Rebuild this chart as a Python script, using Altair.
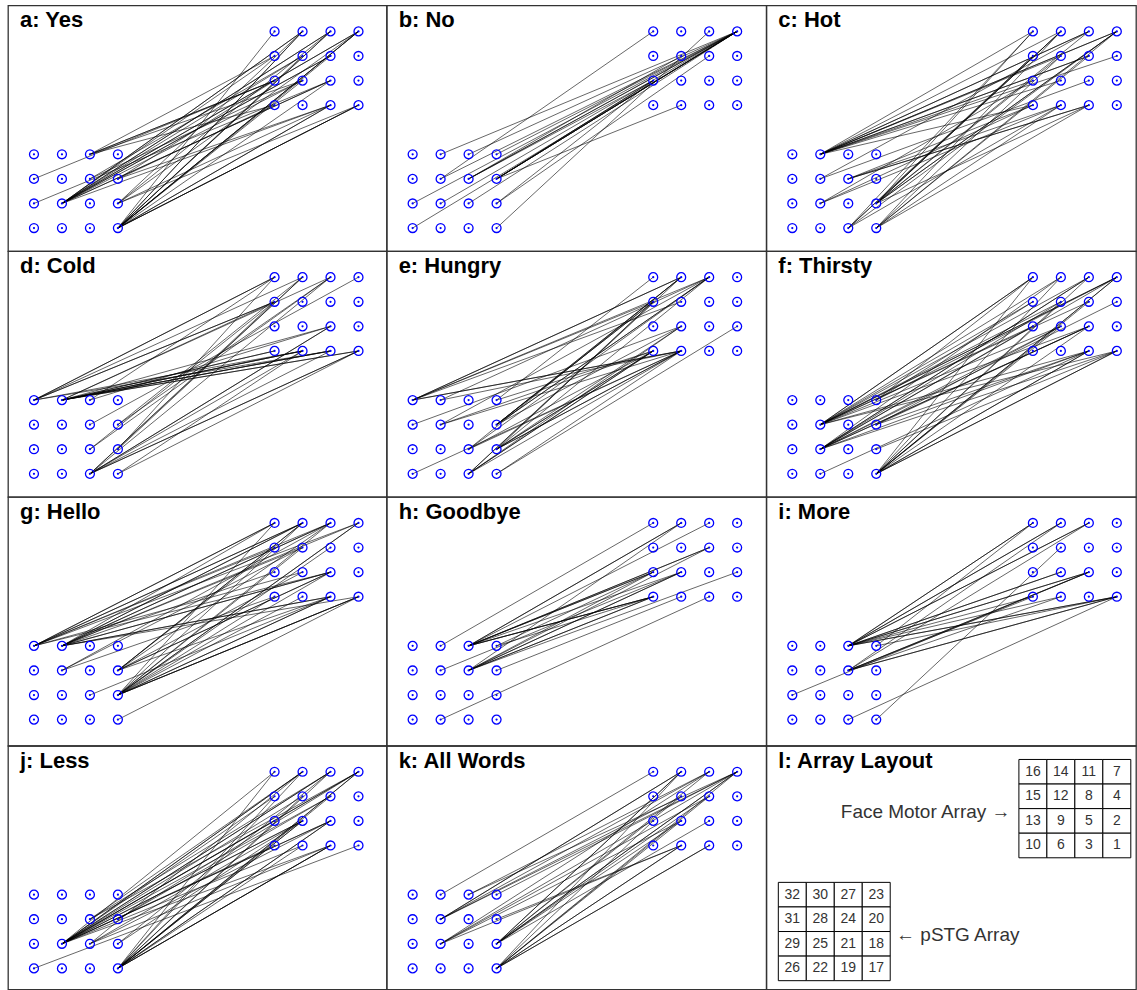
import altair as alt
import pandas as pd

# ---------------- data ----------------
TITLES = ["a: Yes", "b: No", "c: Hot", "d: Cold", "e: Hungry", "f: Thirsty",
          "g: Hello", "h: Goodbye", "i: More", "j: Less", "k: All Words", "l: Array Layout"]

# electrode numbering, rows top -> bottom, columns left -> right
MOTOR_LAYOUT = [[16, 14, 11, 7], [15, 12, 8, 4], [13, 9, 5, 2], [10, 6, 3, 1]]
PSTG_LAYOUT = [[32, 30, 27, 23], [31, 28, 24, 20], [29, 25, 21, 18], [26, 22, 19, 17]]

# connections: (pSTG electrode, face-motor electrode, number of lines)
CONN_YES = [(25, 14, 2), (25, 11, 2), (25, 7, 2), (25, 12, 1), (25, 8, 2), (25, 9, 1), (25, 5, 2), (25, 3, 1), (25, 15, 1),
            (17, 16, 1), (17, 14, 2), (17, 11, 2), (17, 7, 3), (17, 12, 1), (17, 8, 1), (17, 5, 1), (17, 3, 2), (17, 1, 3), (17, 9, 1),
            (18, 14, 1), (18, 11, 1), (18, 7, 1), (18, 3, 1), (18, 1, 1),
            (27, 13, 2), (27, 10, 1), (27, 9, 1), (27, 15, 1),
            (24, 12, 1), (24, 9, 1), (20, 13, 1), (20, 10, 1), (20, 3, 1), (31, 13, 1), (29, 5, 1)]
CONN_NO = [(30, 7, 1), (27, 7, 1), (28, 7, 1), (24, 7, 2), (20, 7, 4), (29, 7, 1), (25, 7, 1), (26, 7, 1), (23, 7, 1), (21, 7, 1),
           (20, 13, 2), (24, 13, 1), (18, 13, 1), (20, 6, 1), (28, 16, 1), (18, 8, 1), (17, 11, 1), (24, 12, 1)]
CONN_HOT = [(30, 16, 1), (30, 14, 1), (30, 11, 2), (30, 7, 2), (30, 12, 1), (30, 8, 2), (30, 4, 1), (30, 13, 1), (30, 9, 1), (30, 10, 1),
            (28, 11, 1), (28, 5, 1), (24, 6, 1), (24, 3, 2), (24, 10, 1), (25, 10, 1), (25, 13, 1), (25, 6, 1),
            (18, 16, 1), (18, 14, 2), (18, 11, 1), (18, 7, 2), (18, 15, 1), (18, 12, 1), (18, 3, 1),
            (19, 16, 1), (19, 14, 1), (19, 15, 1), (19, 7, 1), (19, 6, 1),
            (17, 14, 1), (17, 7, 1), (17, 12, 1), (17, 8, 1), (17, 3, 1), (17, 6, 1)]
CONN_COLD = [(32, 16, 2), (32, 15, 2), (32, 14, 1), (32, 6, 1), (32, 3, 1),
             (30, 10, 2), (30, 6, 3), (30, 3, 3), (30, 1, 2), (30, 15, 1), (30, 11, 1), (30, 5, 1),
             (27, 16, 1), (27, 5, 1), (24, 7, 1), (20, 11, 1), (20, 14, 1), (21, 15, 1), (21, 11, 1), (18, 16, 1), (18, 14, 1),
             (19, 15, 1), (19, 14, 1), (19, 11, 1), (19, 5, 2), (19, 3, 1), (19, 1, 2), (19, 6, 1), (17, 1, 1), (17, 6, 1)]
CONN_HUNGRY = [(32, 14, 2), (32, 11, 1), (32, 15, 1), (32, 12, 1), (32, 6, 2), (30, 11, 1), (30, 6, 1), (31, 9, 1),
               (28, 11, 1), (28, 10, 1), (28, 6, 1), (23, 10, 1), (20, 14, 2), (20, 11, 2), (20, 15, 2), (20, 9, 1),
               (21, 14, 1), (21, 11, 1), (21, 10, 1), (21, 6, 1), (18, 11, 1), (18, 15, 1), (18, 10, 2), (18, 6, 2), (18, 9, 1),
               (26, 6, 1), (19, 14, 1), (19, 15, 1), (19, 10, 2), (19, 6, 1), (19, 9, 1), (17, 6, 1), (17, 2, 1), (23, 16, 1)]
CONN_THIRSTY = [(28, 16, 2), (28, 14, 1), (28, 11, 1), (28, 7, 2), (28, 15, 1), (28, 12, 1), (28, 8, 1), (28, 13, 1), (28, 9, 1), (28, 5, 1), (28, 3, 1), (28, 1, 1),
                (25, 14, 1), (25, 11, 2), (25, 7, 1), (25, 12, 1), (25, 4, 1), (25, 13, 1), (25, 9, 1), (25, 5, 2), (25, 3, 1), (25, 1, 1),
                (23, 16, 1), (23, 7, 1), (23, 15, 1), (20, 9, 1), (20, 5, 1), (20, 3, 1), (22, 3, 1), (18, 1, 1),
                (17, 16, 1), (17, 14, 1), (17, 11, 1), (17, 7, 2), (17, 12, 1), (17, 8, 1), (17, 9, 1), (17, 5, 1), (17, 3, 2), (17, 1, 2)]
CONN_HELLO = [(32, 16, 2), (32, 14, 2), (32, 11, 1), (32, 7, 1), (32, 15, 1), (32, 9, 1), (32, 5, 1),
              (30, 16, 1), (30, 14, 2), (30, 11, 2), (30, 7, 1), (30, 12, 1), (30, 5, 2), (30, 13, 1), (30, 3, 2), (30, 1, 1),
              (28, 11, 1), (28, 12, 1), (28, 10, 1), (20, 14, 2), (20, 11, 1), (20, 15, 1), (20, 9, 1), (20, 5, 2), (20, 3, 1), (21, 3, 1),
              (18, 16, 1), (18, 14, 1), (18, 11, 1), (18, 7, 2), (18, 12, 1), (18, 8, 1), (18, 5, 1), (18, 3, 2), (18, 1, 3), (18, 10, 1), (18, 6, 1), (17, 1, 1)]
CONN_GOODBYE = [(30, 16, 1), (27, 14, 2), (27, 8, 2), (27, 13, 2), (27, 9, 1), (27, 10, 3), (27, 11, 1), (23, 10, 1), (23, 13, 1),
                (28, 9, 1), (24, 8, 1), (24, 13, 1), (24, 9, 2), (24, 10, 2), (24, 14, 1), (24, 2, 1), (20, 6, 1), (22, 3, 1)]
CONN_MORE = [(27, 16, 2), (27, 14, 2), (27, 11, 2), (27, 9, 2), (27, 5, 2), (27, 6, 1), (27, 1, 2), (27, 10, 1), (23, 16, 1), (23, 1, 1),
             (24, 14, 1), (24, 11, 1), (24, 5, 2), (24, 1, 2), (24, 10, 1), (24, 6, 1), (29, 5, 1), (19, 1, 1), (17, 12, 1)]
CONN_LESS = [(25, 16, 1), (25, 14, 2), (25, 11, 2), (25, 7, 2), (25, 15, 1), (25, 12, 1), (25, 8, 1), (25, 13, 1), (25, 9, 2), (25, 5, 2), (25, 10, 1), (25, 6, 1), (25, 3, 1),
             (24, 14, 1), (24, 11, 1), (24, 7, 1), (20, 7, 1), (20, 8, 1), (21, 14, 1), (21, 9, 1), (21, 5, 1), (21, 3, 1), (18, 11, 1), (18, 9, 1), (26, 1, 1),
             (17, 16, 1), (17, 14, 1), (17, 11, 1), (17, 7, 2), (17, 12, 1), (17, 8, 1), (17, 9, 2), (17, 5, 2), (17, 3, 3), (17, 15, 1), (17, 6, 1)]
CONN_ALL = [(30, 16, 1), (27, 11, 1), (27, 7, 1), (28, 14, 2), (28, 11, 1), (28, 7, 1), (28, 12, 1),
            (25, 11, 1), (25, 7, 1), (25, 8, 1), (25, 9, 1), (25, 6, 1), (20, 6, 1),
            (18, 14, 2), (18, 11, 1), (18, 7, 2), (18, 12, 1), (18, 8, 1), (18, 9, 1), (18, 5, 1),
            (17, 14, 1), (17, 7, 1), (17, 8, 1), (17, 6, 2), (17, 3, 2), (17, 13, 1), (17, 9, 1), (23, 7, 1)]

CONNECTIONS = [CONN_YES, CONN_NO, CONN_HOT, CONN_COLD, CONN_HUNGRY, CONN_THIRSTY,
               CONN_HELLO, CONN_GOODBYE, CONN_MORE, CONN_LESS, CONN_ALL]

LABEL_MOTOR = "Face Motor Array \u2192"
LABEL_PSTG = "\u2190 pSTG Array"

# ---------------- layout / geometry ----------------
XU, YU = 28.0, 24.6          # pixels per grid unit
LEFT, TOP = 26.0, 26.0       # pixel margin before first electrode
MOTOR_COL0 = 8.6             # grid-unit column offset of the face-motor array
PSTG_ROW0 = 5.0              # grid-unit row offset of the pSTG array
COL_W = [379, 380, 370]
ROW_H = [246, 246, 249, 244]
FONT = "Liberation Sans"
BLUE = "#0000ff"

motor_pos = {n: (MOTOR_COL0 + c, float(r)) for r, row in enumerate(MOTOR_LAYOUT) for c, n in enumerate(row)}
pstg_pos = {n: (float(c), PSTG_ROW0 + r) for r, row in enumerate(PSTG_LAYOUT) for c, n in enumerate(row)}

electrodes = pd.DataFrame(
    [{"num": n, "gx": x, "gy": y} for n, (x, y) in list(motor_pos.items()) + list(pstg_pos.items())]
)


def scales(w, h):
    xs = alt.Scale(domain=[-LEFT / XU, (w - LEFT) / XU], nice=False, zero=False)
    ys = alt.Scale(domain=[-TOP / YU, (h - TOP) / YU], nice=False, zero=False, reverse=True)
    return xs, ys


def title_layer(t):
    return alt.Chart(pd.DataFrame({"t": [t]})).mark_text(
        align="left", baseline="alphabetic", fontSize=22, fontWeight="bold", font=FONT, color="black"
    ).encode(x=alt.value(12), y=alt.value(22), text="t:N")


def word_panel(title, conns, w, h):
    xs, ys = scales(w, h)
    rows = []
    for s, m, k in conns:
        x1, y1 = pstg_pos[s]
        x2, y2 = motor_pos[m]
        for _ in range(k):
            rows.append({"x1": x1, "y1": y1, "x2": x2, "y2": y2})
    lines = alt.Chart(pd.DataFrame(rows)).mark_rule(color="black", strokeWidth=0.75, opacity=0.8).encode(
        x=alt.X("x1:Q", scale=xs, axis=None), y=alt.Y("y1:Q", scale=ys, axis=None), x2="x2:Q", y2="y2:Q")
    rings = alt.Chart(electrodes).mark_point(shape="circle", size=80, filled=False, color=BLUE,
                                             strokeWidth=1.3, opacity=1).encode(
        x=alt.X("gx:Q", scale=xs, axis=None), y=alt.Y("gy:Q", scale=ys, axis=None))
    dots = alt.Chart(electrodes).mark_point(shape="circle", size=5, filled=True, color=BLUE, opacity=1).encode(
        x=alt.X("gx:Q", scale=xs, axis=None), y=alt.Y("gy:Q", scale=ys, axis=None))
    return alt.layer(lines, rings, dots, title_layer(title)).properties(width=w, height=h)


def layout_panel(title, w, h):
    xs, ys = scales(w, h)
    cells = []
    for layout, pos in ((MOTOR_LAYOUT, motor_pos), (PSTG_LAYOUT, pstg_pos)):
        for row in layout:
            for n in row:
                cx, cy = pos[n]
                cells.append({"x1": cx - 0.5, "x2": cx + 0.5, "y1": cy - 0.5, "y2": cy + 0.5,
                              "cx": cx, "cy": cy, "label": str(n)})
    cdf = pd.DataFrame(cells)
    rects = alt.Chart(cdf).mark_rect(fill="white", stroke="black", strokeWidth=1).encode(
        x=alt.X("x1:Q", scale=xs, axis=None), x2="x2:Q",
        y=alt.Y("y1:Q", scale=ys, axis=None), y2="y2:Q")
    nums = alt.Chart(cdf).mark_text(fontSize=14, font=FONT, color="#333333", baseline="middle").encode(
        x=alt.X("cx:Q", scale=xs, axis=None), y=alt.Y("cy:Q", scale=ys, axis=None), text="label:N")
    ldf = pd.DataFrame([
        {"lx": MOTOR_COL0 - 0.8, "ly": 1.63, "t": LABEL_MOTOR, "al": "right"},
        {"lx": 3.71, "ly": PSTG_ROW0 + 1.63, "t": LABEL_PSTG, "al": "left"},
    ])
    lab_r = alt.Chart(ldf[ldf.al == "right"]).mark_text(
        fontSize=19, font=FONT, color="#333333", align="right", baseline="middle").encode(
        x=alt.X("lx:Q", scale=xs, axis=None), y=alt.Y("ly:Q", scale=ys, axis=None), text="t:N")
    lab_l = alt.Chart(ldf[ldf.al == "left"]).mark_text(
        fontSize=19, font=FONT, color="#333333", align="left", baseline="middle").encode(
        x=alt.X("lx:Q", scale=xs, axis=None), y=alt.Y("ly:Q", scale=ys, axis=None), text="t:N")
    return alt.layer(rects, nums, lab_r, lab_l, title_layer(title)).properties(width=w, height=h)


panels = []
for r in range(4):
    for c in range(3):
        i = r * 3 + c
        w, h = COL_W[c], ROW_H[r]
        if i < 11:
            panels.append(word_panel(TITLES[i], CONNECTIONS[i], w, h))
        else:
            panels.append(layout_panel(TITLES[i], w, h))

chart = alt.concat(*panels, columns=3, spacing=0, bounds="flush", align="each").properties(
    padding={"left": 7, "top": 4, "right": 0, "bottom": 0},
    background="white",
).configure_view(stroke="#333333", strokeWidth=1.3)

chart.save("out.html", embed_options={"renderer": "svg", "actions": False})
